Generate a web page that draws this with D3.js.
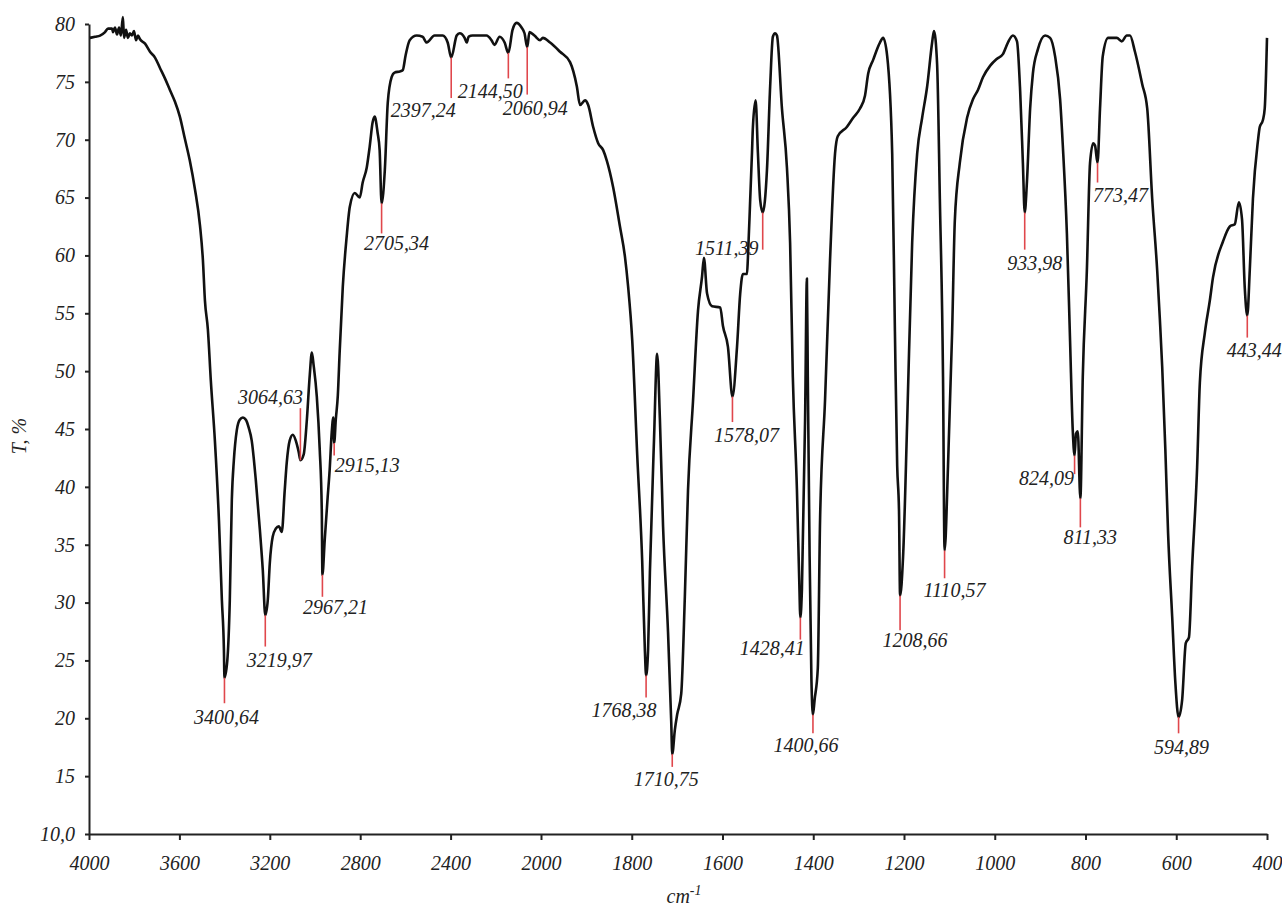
<!DOCTYPE html>
<html><head><meta charset="utf-8">
<script src="https://cdn.jsdelivr.net/npm/d3@7"></script>
<style>
body{margin:0;background:#fff;}
svg text{font-family:"Liberation Serif","Times New Roman",serif;font-style:italic;fill:#222;}
</style></head>
<body><svg id="c" width="1282" height="909"></svg>
<script>
// Wavenumber (cm-1) and transmittance (%)
const wavenumbers = [3996,3973,3951,3929,3916,3898,3894,3885,3876,3867,3859,3850,3845,3836,3828,3819,3810,3801,3792,3783,3775,3752,3730,3708,3686,3664,3642,3620,3598,3576,3554,3531,3509,3496,3487,3474,3461,3443,3425,3412,3403,3400.64,3388,3377,3368,3359,3346,3333,3319,3306,3293,3280,3262,3244,3231,3219.97,3209,3200,3187,3173,3160,3147,3134,3125,3112,3098,3085,3072,3064.63,3050,3036,3023,3014,3006,2992,2979,2970,2967.21,2957,2944,2935,2926,2919,2915.13,2908,2899,2891,2877,2860,2846,2824,2802,2789,2771,2758,2745,2736,2723,2714,2705.34,2691,2678,2661,2648,2625,2612,2599,2581,2550,2524,2506,2471,2435,2413,2397.24,2373,2360,2338,2329,2320,2303,2272,2241,2219,2206,2183,2161,2144.5,2126,2108,2086,2073,2060.94,2051,2029,2004,
1996,1980,1958,1936,1921,1914,1903,1896,1885,1874,1863,1855,1841,1826,1815,1808,1799,1788,1777,1771,1768.38,1764,1760,1751,1744,1738,1731,1720,1713,1710.75,1705,1700,1691,1683,1676,1665,1654,1645,1641,1634,1623,1605,1599,1588,1578.07,1568,1561,1555,1546,1544,1539,1535,1533,1527,1522,1517,1511.39,1502,1495,1489,1484,1480,1469,1458,1451,1445,1436,1431,1428.41,1425,1418,1414,1412,1408,1404,1400.66,1397,1390,1385,1374,1363,1352,1346,1326,1312,1297,1286,1279,1268,1253,1246,1237,1226,1220,1215,1211,1208.66,1202,1193,1182,1171,1160,1149,1138,1134,1127,1121,1114,1110.57,1103,1094,1088,1077,1061,1048,1037,1026,1010,995,982,971,960,951,944,938,933.98,929,922,916,905,889,878,867,856,850,841,834,828,824.09,821,817,811.33,806,797,790,783,779,773.47,768,762,750,731,720,709,702,691,675,664,653,642,636,631,624,618,609,602,594.89,587,579,572,565,554,548,537,526,519,497,482,471,462,455,449,443.44,438,431,420,416,409,405,400];
const transmittance = [78.8,78.9,79.0,79.3,79.6,79.6,79.3,79.7,79.1,79.7,79.0,80.6,78.8,79.5,78.8,79.2,79.0,79.4,78.6,79.0,78.7,78.3,77.6,77.1,76.2,75.3,74.3,73.3,72.0,70.1,68.2,65.7,62.6,59.6,56.1,53.6,49.2,44.0,37.1,30.2,25.9,23.5,25.0,30.2,38.9,42.3,44.9,45.8,46.0,45.8,45.1,44.0,40.6,36.3,32.8,28.9,30.2,33.4,35.7,36.4,36.6,36.1,39.7,42.1,44.0,44.5,44.0,43.0,42.3,42.8,45.8,49.7,51.6,50.5,47.8,43.2,38.0,32.4,35.4,39.1,41.5,44.7,46.0,43.8,45.8,47.9,51.6,57.3,61.6,64.2,65.4,65.0,66.3,67.6,69.4,71.5,72.0,70.6,69.1,64.5,67.4,73.2,75.4,75.8,75.9,76.0,77.3,78.6,79.0,78.9,78.4,79.0,79.0,78.4,77.1,79.0,79.2,78.8,78.4,78.9,79.0,79.0,79.0,78.6,78.2,78.9,78.4,77.5,79.5,80.1,79.7,79.2,78.0,79.3,79.0,78.6,
78.8,78.4,77.6,76.7,74.6,73.0,73.4,73.0,71.1,69.7,69.1,68.2,65.9,62.5,59.9,57.3,52.7,42.8,33.6,25.8,23.7,25.9,32.6,44.0,51.5,45.9,36.6,27.4,19.7,16.9,19.0,20.3,22.1,30.5,39.7,47.4,55.2,58.2,59.8,56.7,55.6,55.5,53.9,52.1,47.8,52.1,56.7,58.4,58.4,59.8,64.8,68.9,71.1,73.4,68.9,64.8,63.7,67.4,74.6,78.9,79.2,79.0,72.7,67.6,61.1,49.5,39.8,32.1,28.7,31.1,45.8,58.0,49.5,34.0,23.3,20.3,21.6,24.3,37.1,47.5,59.6,68.8,70.3,71.1,71.9,72.7,73.8,75.7,76.9,78.4,78.8,77.2,68.8,53.4,41.8,37.9,30.6,34.0,45.6,61.1,68.8,71.9,74.6,78.4,79.4,76.5,64.9,49.5,34.5,41.8,53.3,63.0,68.0,71.9,73.5,74.3,75.4,76.4,77.0,77.4,78.4,79.0,78.5,74.2,68.0,63.7,66.4,72.7,75.7,77.8,79.0,78.8,77.2,73.5,69.5,61.9,52.6,44.8,42.7,44.6,44.8,39.0,49.5,58.7,68.0,69.7,69.5,68.0,72.7,77.2,78.8,78.8,78.5,79.0,79.0,77.6,74.8,72.7,64.9,58.7,54.4,50.4,43.2,36.0,28.8,23.1,20.1,21.6,26.5,27.0,33.1,41.7,49.0,53.3,56.1,58.1,61.2,62.5,62.7,64.6,63.1,57.2,54.8,58.7,64.9,69.9,71.1,71.7,72.7,78.8];

// Annotated peaks
const peakLabels = ["3400,64","3219,97","3064,63","2967,21","2915,13","2705,34","2397,24","2144,50","2060,94","1768,38","1710,75","1578,07","1511,39","1428,41","1400,66","1208,66","1110,57","933,98","773,47","824,09","811,33","594,89","443,44"];
const peakWavenumbers = [3400.64,3219.97,3064.63,2967.21,2915.13,2705.34,2397.24,2144.50,2060.94,1768.38,1710.75,1578.07,1511.39,1428.41,1400.66,1208.66,1110.57,933.98,773.47,824.09,811.33,594.89,443.44];
const peakTip = [23.5,28.9,42.3,32.4,43.8,64.5,77.1,77.5,78.0,23.7,16.9,47.8,63.7,28.7,20.3,30.6,34.5,63.7,68.0,42.7,39.0,20.1,54.8];
const stemEnd = [21.3,26.2,46.8,30.5,42.7,61.9,73.6,75.3,73.9,21.8,15.8,45.6,60.5,26.8,18.7,27.6,32.1,60.5,66.3,41.1,36.5,18.7,52.9];

// Axis ticks
const xTickValues = [4000,3600,3200,2800,2400,2000,1800,1600,1400,1200,1000,800,600,400];
const yTickValues = [10,15,20,25,30,35,40,45,50,55,60,65,70,75,80];
const yTickLabels = ["10,0","15","20","25","30","35","40","45","50","55","60","65","70","75","80"];

// label offsets (layout, px) relative to stem end
const labelOffset = [[2,14],[14,13],[-30,-11],[13,10],[33,9],[15,10],[-28,12],[-18,13],[8,13],[-22,13],[-6,12],[14,13],[-36,-2],[-28,8],[-7,12],[15,10],[10,12],[10,13],[23,12],[-28,4],[10,10],[3,14],[7,12]];

const svg = d3.select("#c");
const x = d3.scaleLinear().domain([4000,2000,400]).range([89,541,1267]);
const y = d3.scaleLinear().domain([10,80]).range([834,24]);

const data = wavenumbers.map((w,i)=>({w, t: transmittance[i]}));

// axes
const xAxis = svg.append("g").attr("transform","translate(0,834)")
  .call(d3.axisBottom(x).tickValues(xTickValues).tickSize(6).tickSizeOuter(0).tickFormat(d=>d));
xAxis.select(".domain").attr("stroke","#222").attr("stroke-width",2);
xAxis.selectAll(".tick line").attr("stroke","#222").attr("stroke-width",2);
xAxis.selectAll(".tick text").attr("font-size",20).attr("dy","1.35em").attr("fill","#222")
  .style("font-family","'Liberation Serif',serif").style("font-style","italic");

const yAxis = svg.append("g").attr("transform","translate(89,0)")
  .call(d3.axisLeft(y).tickValues(yTickValues).tickSize(4).tickSizeOuter(0).tickFormat((d,i)=>yTickLabels[i]));
yAxis.select(".domain").attr("stroke","#222").attr("stroke-width",2);
yAxis.selectAll(".tick line").attr("stroke","#222").attr("stroke-width",2);
yAxis.selectAll(".tick text").attr("font-size",20).attr("x",-14).attr("fill","#222")
  .style("font-family","'Liberation Serif',serif").style("font-style","italic");

// spectrum
const line = d3.line().x(d=>x(d.w)).y(d=>y(d.t)).curve(d3.curveMonotoneX);
svg.append("path").datum(data).attr("d",line)
  .attr("fill","none").attr("stroke","#111").attr("stroke-width",2.6).attr("stroke-linejoin","round");

// peak stems and labels
const g = svg.append("g");
peakWavenumbers.forEach((w,i)=>{
  const px = x(w);
  g.append("line").attr("x1",px).attr("x2",px).attr("y1",y(peakTip[i])).attr("y2",y(stemEnd[i]))
    .attr("stroke","#e0474c").attr("stroke-width",1.6);
  g.append("text").attr("x",px+labelOffset[i][0]).attr("y",y(stemEnd[i])+labelOffset[i][1])
    .attr("dy","0.35em").attr("text-anchor","middle").attr("font-size",20).text(peakLabels[i]);
});

// axis titles
svg.append("text").attr("transform","translate(26,436) rotate(-90)").attr("text-anchor","middle")
  .attr("font-size",20).text("T, %");
const xt = svg.append("text").attr("x",684).attr("y",903).attr("text-anchor","middle").attr("font-size",20);
xt.append("tspan").text("cm");
xt.append("tspan").attr("dy",-8).attr("font-size",14).text("-1");
</script></body></html>
